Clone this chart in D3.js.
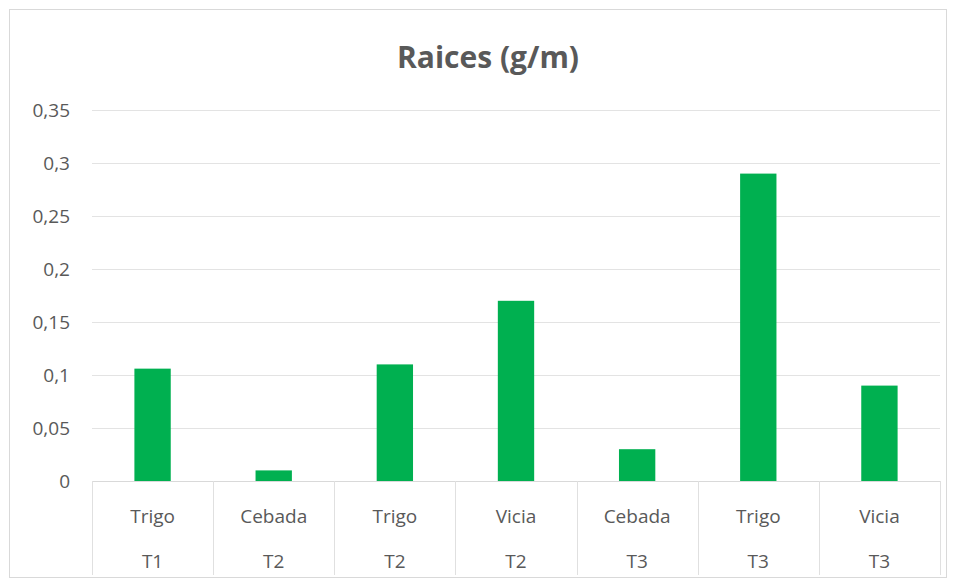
<!DOCTYPE html>
<html>
<head>
<meta charset="utf-8">
<script src="https://cdn.jsdelivr.net/npm/d3@7"></script>
<style>
  body { margin: 0; background: #fff; }
  text { font-family: "Open Sans", "Noto Sans", sans-serif; }
</style>
</head>
<body>
<div id="chart"></div>
<script>
// chart data
var cultivos = ["Trigo", "Cebada", "Trigo", "Vicia", "Cebada", "Trigo", "Vicia"];
var tratamientos = ["T1", "T2", "T2", "T2", "T3", "T3", "T3"];
var raices = [0.106, 0.01, 0.11, 0.17, 0.03, 0.29, 0.09];
var yTicks = [0, 0.05, 0.1, 0.15, 0.2, 0.25, 0.3, 0.35];

var svgWidth = 956, svgHeight = 582;
var margin = { top: 110, right: 16, bottom: 101, left: 92 };
var width = svgWidth - margin.left - margin.right;
var height = svgHeight - margin.top - margin.bottom;

var svg = d3.select("#chart")
    .append("svg")
    .attr("width", svgWidth)
    .attr("height", svgHeight);

// outer chart border
svg.append("rect")
    .attr("x", 9.5).attr("y", 9.5)
    .attr("width", svgWidth - 19).attr("height", svgHeight - 14)
    .attr("fill", "#fff")
    .attr("stroke", "#d9d9d9");

svg.append("text")
    .attr("x", svgWidth / 2 + 10)
    .attr("y", 68)
    .attr("text-anchor", "middle")
    .attr("font-size", 30)
    .attr("font-weight", "bold")
    .attr("fill", "#595959")
    .text("Raices (g/m)");

var chartGroup = svg.append("g")
    .attr("transform", `translate(${margin.left}, ${margin.top})`);

var keys = raices.map((d, i) => i);

var x = d3.scaleBand()
    .domain(keys)
    .range([0, width])
    .paddingInner(0.7)
    .paddingOuter(0.35);

var xCat = d3.scaleBand()
    .domain(keys)
    .range([0, width]);

var y = d3.scaleLinear()
    .domain([0, 0.35])
    .range([height, 0]);

var fmt = d => d3.format("")(d).replace(".", ",");

// gridlines + y labels
var yAxis = chartGroup.append("g")
    .call(d3.axisLeft(y).tickValues(yTicks).tickSize(-width).tickFormat(fmt).tickPadding(22));
yAxis.select(".domain").remove();
yAxis.selectAll(".tick line").attr("stroke", "#e3e3e3").attr("stroke-width", 1);
yAxis.selectAll(".tick text")
    .attr("font-size", 19)
    .attr("fill", "#595959");
yAxis.selectAll(".tick").filter(d => d === 0).select("line").remove();

// bars
chartGroup.selectAll(".bar")
    .data(raices)
    .enter()
    .append("rect")
    .attr("class", "bar")
    .attr("x", (d, i) => x(i))
    .attr("width", x.bandwidth())
    .attr("y", d => y(d))
    .attr("height", d => height - y(d))
    .attr("fill", "#00b050");

// category axis (two levels)
chartGroup.append("line")
    .attr("x1", 0).attr("x2", width)
    .attr("y1", height + 0.5).attr("y2", height + 0.5)
    .attr("stroke", "#d9d9d9");

chartGroup.selectAll(".sep")
    .data(keys.concat([keys.length]))
    .enter()
    .append("line")
    .attr("class", "sep")
    .attr("x1", i => Math.round(i < keys.length ? xCat(i) : width) + 0.5)
    .attr("x2", i => Math.round(i < keys.length ? xCat(i) : width) + 0.5)
    .attr("y1", height)
    .attr("y2", height + 94)
    .attr("stroke", "#e0e0e0");

chartGroup.selectAll(".lbl1")
    .data(cultivos)
    .enter()
    .append("text")
    .attr("class", "lbl1")
    .attr("x", (d, i) => xCat(i) + xCat.bandwidth() / 2)
    .attr("y", height + 42)
    .attr("text-anchor", "middle")
    .attr("font-size", 19)
    .attr("fill", "#595959")
    .text(d => d);

chartGroup.selectAll(".lbl2")
    .data(tratamientos)
    .enter()
    .append("text")
    .attr("class", "lbl2")
    .attr("x", (d, i) => xCat(i) + xCat.bandwidth() / 2)
    .attr("y", height + 87)
    .attr("text-anchor", "middle")
    .attr("font-size", 19)
    .attr("fill", "#595959")
    .text(d => d);
</script>
</body>
</html>
